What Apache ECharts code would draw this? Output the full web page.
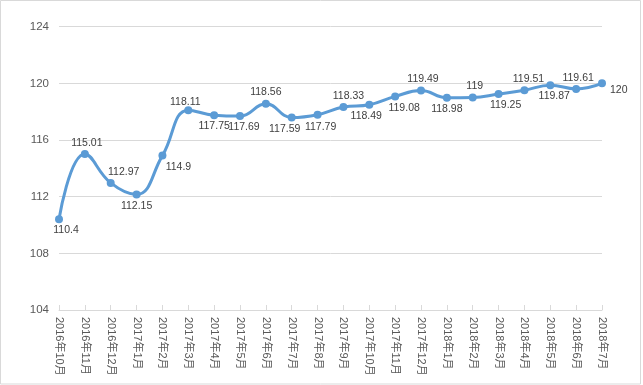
<!DOCTYPE html>
<html><head><meta charset="utf-8">
<script src="https://cdn.jsdelivr.net/npm/echarts@6/dist/echarts.min.js"></script>
<style>html,body{margin:0;padding:0;background:#fff}#c{width:643px;height:385px}</style>
</head><body><div id="c"></div>
<script>
var categories = ['2016年10月','2016年11月','2016年12月','2017年1月','2017年2月','2017年3月','2017年4月','2017年5月','2017年6月','2017年7月','2017年8月','2017年9月','2017年10月','2017年11月','2017年12月','2018年1月','2018年2月','2018年3月','2018年4月','2018年5月','2018年6月','2018年7月'];
var values = [110.4,115.01,112.97,112.15,114.9,118.11,117.75,117.69,118.56,117.59,117.79,118.33,118.49,119.08,119.49,118.98,119,119.25,119.51,119.87,119.61,120];
var yTicks = [104,108,112,116,120,124];
// label placement (style only)
var labelSide = ['bottom','top','top','bottom','bottom','top','bottom','bottom','top','bottom','bottom','top','bottom','bottom','top','bottom','top','bottom','top','bottom','top','right'];
var labelDx = [7,2,13,0,16,-3,0,4,0,-7,3,5,-3,9,2,0,2,7,4,4,2,2];
var labelDy = [0,0,0,0,0,3,0,0,0,0,1,0,0,0,0,0,0,0,0,0,0,7];

var chart = echarts.init(document.getElementById('c'), null, {renderer:'canvas'});
var font = "'Liberation Sans','Noto Sans CJK SC',sans-serif";
var data = values.map(function(v,i){
  return {value:v, label:{position:labelSide[i], offset:[labelDx[i], labelDy[i]]}};
});
chart.setOption({
  animation:false,
  backgroundColor:'#fff',
  graphic:[{type:'rect', shape:{x:0.5,y:0.5,width:640,height:383.5}, style:{fill:null, stroke:'#d9d9d9', lineWidth:1}, z:-1}],
  grid:{left:59, right:41, top:26.7, bottom:75, containLabel:false},
  xAxis:{
    type:'category', data:categories, boundaryGap:false,
    axisLine:{lineStyle:{color:'#d9d9d9', width:1}},
    axisTick:{inside:true, length:5, lineStyle:{color:'#d9d9d9'}},
    axisLabel:{rotate:-90, interval:0, color:'#595959', fontSize:11, fontFamily:font, margin:7}
  },
  yAxis:{
    type:'value', min:yTicks[0], max:yTicks[yTicks.length-1], interval:yTicks[1]-yTicks[0],
    axisLine:{show:false}, axisTick:{show:false},
    axisLabel:{color:'#595959', fontSize:11.5, fontFamily:font, margin:10},
    splitLine:{lineStyle:{color:'#d9d9d9', width:1}}
  },
  series:[{
    type:'line', data:data, smooth:0.45,
    symbol:'circle', symbolSize:8,
    lineStyle:{color:'#5B9BD5', width:3},
    itemStyle:{color:'#5B9BD5'},
    label:{show:true, color:'#404040', fontSize:10.5, fontFamily:font, distance:2}
  }]
});
</script></body></html>
